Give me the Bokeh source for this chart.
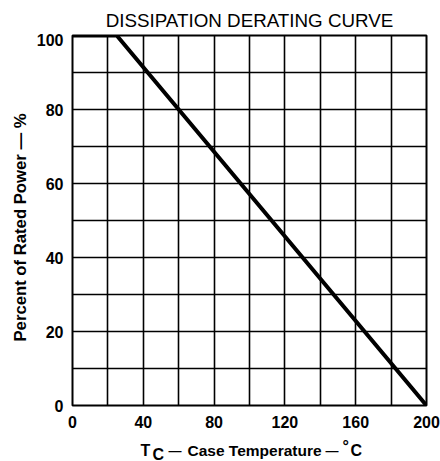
from bokeh.plotting import figure
from bokeh.models import FixedTicker
from bokeh.layouts import column
from bokeh.core.properties import value
from bokeh.embed import file_html
from bokeh.resources import INLINE

# ---- data ----
temp_c = [0, 25, 200]
rated_power_pct = [100, 100, 0]

x_tick_values = [0, 40, 80, 120, 160, 200]
y_tick_values = [0, 20, 40, 60, 80, 100]
x_grid_values = [0, 20, 40, 60, 80, 100, 120, 140, 160, 180, 200]
y_grid_values = [0, 10, 20, 30, 40, 50, 60, 70, 80, 90, 100]

title_text = "DISSIPATION DERATING CURVE"
y_label_text = "Percent of Rated Power \u2014 %"
x_label_main = "T"
x_label_sub = "C"
x_label_dash = "\u2014"
x_label_words = "Case Temperature"
x_label_deg = "\u00b0"
x_label_unit = "C"

SANS = "Liberation Sans"


def text_strip(height):
    # a plain text band whose pixel coordinates are measured from the plot frame's left edge
    s = figure(width=440, height=height, x_range=(0, 354), y_range=(0, height),
               output_backend="svg", toolbar_location=None,
               x_axis_type=None, y_axis_type=None,
               min_border_left=72, min_border_right=14,
               min_border_top=0, min_border_bottom=0)
    s.outline_line_color = None
    s.background_fill_color = "white"
    s.border_fill_color = "white"
    s.xgrid.visible = False
    s.ygrid.visible = False
    return s


# ---- title band ----
top = text_strip(33)
top.text(x=[177], y=[13.5], text=[title_text],
         text_font=value(SANS), text_font_style="normal",
         text_font_size="18.8px", text_color="black",
         text_align="center", text_baseline="alphabetic")

# ---- main chart ----
p = figure(width=440, height=400, x_range=(0, 200), y_range=(0, 100),
           output_backend="svg", toolbar_location=None,
           min_border_left=72, min_border_right=14,
           min_border_top=2, min_border_bottom=28)

p.background_fill_color = "white"
p.border_fill_color = "white"
p.outline_line_color = "black"
p.outline_line_width = 2

p.xgrid.ticker = FixedTicker(ticks=x_grid_values)
p.ygrid.ticker = FixedTicker(ticks=y_grid_values)
for g in (p.xgrid, p.ygrid):
    g.grid_line_color = "black"
    g.grid_line_width = 1.6
    g.grid_line_alpha = 1.0

p.xaxis.ticker = FixedTicker(ticks=x_tick_values)
p.yaxis.ticker = FixedTicker(ticks=y_tick_values)
for ax in (p.xaxis, p.yaxis):
    ax.axis_line_color = None
    ax.major_tick_line_color = None
    ax.minor_tick_line_color = None
    ax.major_tick_out = 0
    ax.major_tick_in = 0
    ax.minor_tick_out = 0
    ax.minor_tick_in = 0
    ax.major_label_text_font = SANS
    ax.major_label_text_font_style = "bold"
    ax.major_label_text_font_size = "16px"
    ax.major_label_text_color = "black"
p.xaxis.major_label_standoff = 10
p.yaxis.major_label_standoff = 9

p.yaxis.axis_label = y_label_text + "\u00a0\u00a0\u00a0"
p.yaxis.axis_label_text_font = SANS
p.yaxis.axis_label_text_font_style = "bold"
p.yaxis.axis_label_text_font_size = "16.7px"
p.yaxis.axis_label_text_color = "black"
p.yaxis.axis_label_standoff = 4

p.line(temp_c, rated_power_pct, line_color="black", line_width=4)

# ---- x-axis label band ----
bottom = text_strip(28)
letters = dict(text_font=value(SANS), text_font_style="bold",
               text_font_size="16px", text_color="black",
               text_align="left", text_baseline="alphabetic")
bottom.text(x=[68, 278], y=[11, 11], text=[x_label_main, x_label_unit], **letters)
bottom.text(x=[80], y=[7.5], text=[x_label_sub], **letters)
bottom.text(x=[270], y=[15], text=[x_label_deg], **letters)
bottom.text(x=[96, 253], y=[11.5, 11.5], text=[x_label_dash, x_label_dash],
            text_font=value(SANS), text_font_style="bold",
            text_font_size="13px", text_color="black",
            text_align="left", text_baseline="alphabetic")
bottom.text(x=[115], y=[11], text=[x_label_words],
            text_font=value(SANS), text_font_style="bold",
            text_font_size="15.5px", text_color="black",
            text_align="left", text_baseline="alphabetic")

layout = column(top, p, bottom, spacing=0)
open("out.html", "w").write(file_html(layout, INLINE))
